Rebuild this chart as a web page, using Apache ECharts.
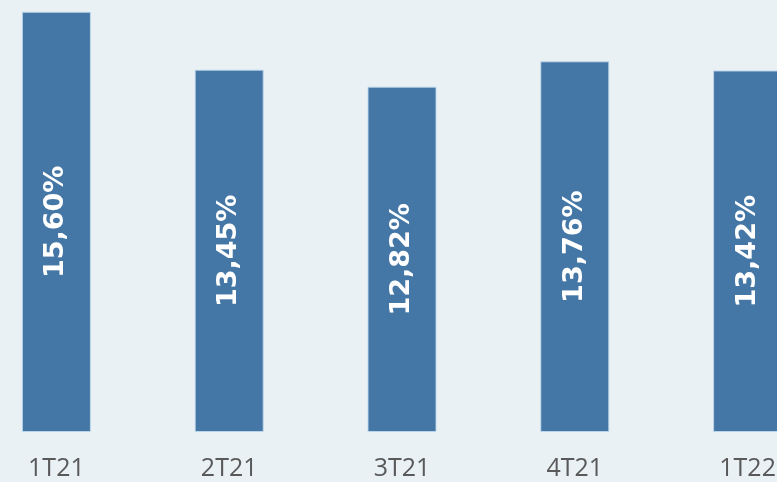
<!DOCTYPE html>
<html>
<head>
<meta charset="utf-8">
<script src="https://cdn.jsdelivr.net/npm/echarts@6/dist/echarts.min.js"></script>
<style>
  html, body { margin: 0; padding: 0; background: #e9f1f4; overflow: hidden; }
  body { width: 777px; height: 482px; position: relative; }
  /* o gráfico original está recortado dos dois lados */
  #chart { position: absolute; left: -30px; top: 0; width: 864px; height: 482px; }
</style>
</head>
<body>
<div id="chart"></div>
<script>
// trimestres
const categorias = ['1T21', '2T21', '3T21', '4T21', '1T22']
// valores (%)
const valores = [15.60, 13.45, 12.82, 13.76, 13.42]

const chart = echarts.init(document.getElementById('chart'))

const fmt = v => v.toFixed(2).replace('.', ',') + '%'

chart.setOption({
  backgroundColor: '#e9f1f4',
  animation: false,
  grid: { left: 0, right: 0, top: 1, bottom: 50, containLabel: false },
  xAxis: {
    type: 'category',
    data: categorias,
    axisLine: { show: false },
    axisTick: { show: false },
    axisLabel: {
      color: '#595959',
      fontFamily: 'Open Sans',
      fontSize: 25,
      margin: 24
    }
  },
  yAxis: {
    type: 'value',
    min: 0,
    max: 16,
    show: false
  },
  series: [{
    type: 'bar',
    data: valores,
    barWidth: 69,
    itemStyle: {
      color: '#4477a6',
      borderColor: 'rgba(190,215,235,0.9)',
      borderWidth: 1
    },
    label: {
      show: true,
      position: 'inside',
      rotate: 90,
      formatter: p => fmt(p.value),
      color: '#ffffff',
      fontFamily: 'DejaVu Sans',
      fontWeight: 'bold',
      fontSize: 27
    }
  }]
})
</script>
</body>
</html>
